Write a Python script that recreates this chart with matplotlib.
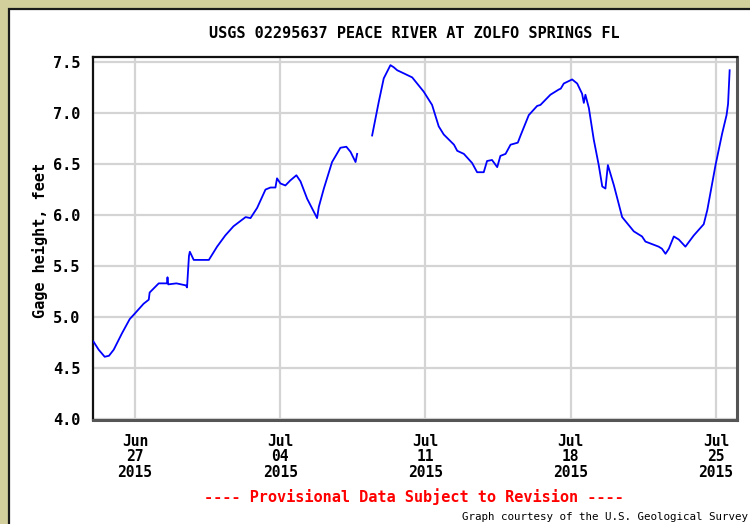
import matplotlib
matplotlib.use("Agg")
import matplotlib.pyplot as plt
import matplotlib.dates as mdates
import matplotlib.patches as mpatches
import numpy as np
import pandas as pd

# ---- data ----
times_seg1 = [
    "06-25 00:00", "06-25 06:00", "06-25 13:00", "06-25 18:00", "06-25 23:30",
    "06-26 09:00", "06-26 18:00", "06-27 00:30", "06-27 10:00", "06-27 16:00",
    "06-27 17:00", "06-28 03:30", "06-28 13:00", "06-28 13:40", "06-28 14:30",
    "06-29 00:00", "06-29 11:00", "06-29 12:15", "06-29 14:30", "06-29 15:30",
    "06-29 20:00", "06-30 13:30", "06-30 23:00", "07-01 08:30", "07-01 18:00",
    "07-02 08:00", "07-02 13:40", "07-02 21:20", "07-03 07:00", "07-03 12:45",
    "07-03 18:30", "07-03 20:20", "07-04 00:15", "07-04 06:00", "07-04 11:45",
    "07-04 18:45", "07-04 23:30", "07-05 07:10", "07-05 18:40", "07-05 20:40",
    "07-06 02:30", "07-06 12:00", "07-06 21:40", "07-07 04:30", "07-07 09:20",
    "07-07 15:10", "07-07 17:00",
]
gage_seg1 = [
    4.76, 4.68, 4.61, 4.62, 4.68,
    4.84, 4.98, 5.04, 5.13, 5.17,
    5.24, 5.33, 5.33, 5.39, 5.32,
    5.33, 5.31, 5.29, 5.60, 5.64,
    5.56, 5.56, 5.69, 5.80, 5.89,
    5.98, 5.97, 6.07, 6.25, 6.27,
    6.27, 6.36, 6.31, 6.29, 6.34,
    6.39, 6.33, 6.16, 5.97, 6.08,
    6.26, 6.52, 6.66, 6.67, 6.62,
    6.52, 6.60,
]
times_seg2 = [
    "07-08 10:20", "07-08 18:00", "07-08 23:45", "07-09 07:30", "07-09 11:15",
    "07-09 15:20", "07-09 22:50", "07-10 08:40", "07-10 22:00", "07-11 07:40",
    "07-11 15:20", "07-11 21:10", "07-12 09:00", "07-12 12:45", "07-12 20:25",
    "07-13 06:00", "07-13 11:45", "07-13 19:25", "07-13 23:15", "07-14 05:00",
    "07-14 11:00", "07-14 14:40", "07-14 20:40", "07-15 02:25", "07-15 10:50",
    "07-15 14:00", "07-15 23:30", "07-16 09:10", "07-16 13:00", "07-17 00:30",
    "07-17 10:00", "07-17 12:30", "07-17 16:00", "07-18 01:40", "07-18 07:30",
    "07-18 13:10", "07-18 15:10", "07-18 17:00", "07-18 21:00", "07-19 02:40",
    "07-19 08:25", "07-19 12:30", "07-19 16:10", "07-19 19:00", "07-20 02:00",
    "07-20 11:30", "07-21 01:00", "07-21 10:30", "07-21 14:25", "07-22 05:45",
    "07-22 09:30", "07-22 13:40", "07-22 17:30", "07-22 23:15", "07-23 05:00",
    "07-23 12:40", "07-23 22:20", "07-24 09:50", "07-24 14:00", "07-24 23:30",
    "07-25 07:10", "07-25 12:15", "07-25 14:00", "07-25 15:50",
]
gage_seg2 = [
    6.78, 7.11, 7.34, 7.47, 7.45,
    7.42, 7.39, 7.35, 7.21, 7.08,
    6.87, 6.79, 6.69, 6.63, 6.60,
    6.51, 6.42, 6.42, 6.53, 6.54,
    6.47, 6.58, 6.60, 6.69, 6.71,
    6.78, 6.98, 7.07, 7.08, 7.18,
    7.23, 7.24, 7.29, 7.33, 7.29,
    7.19, 7.10, 7.18, 7.05, 6.74,
    6.49, 6.28, 6.26, 6.49, 6.29,
    5.98, 5.84, 5.79, 5.74, 5.69,
    5.67, 5.62, 5.67, 5.79, 5.76,
    5.69, 5.80, 5.91, 6.05, 6.49,
    6.80, 6.98, 7.09, 7.42,
]
year = "2015"
y_ticks = [4.0, 4.5, 5.0, 5.5, 6.0, 6.5, 7.0, 7.5]
x_tick_dates = ["2015-06-27", "2015-07-04", "2015-07-11", "2015-07-18", "2015-07-25"]
title = "USGS 02295637 PEACE RIVER AT ZOLFO SPRINGS FL"
ylabel = "Gage height, feet"
provisional = "---- Provisional Data Subject to Revision ----"
credit = "Graph courtesy of the U.S. Geological Survey"

def to_dt(lst):
    return pd.to_datetime([f"{year}-{t}" for t in lst])

t1 = to_dt(times_seg1)
t2 = to_dt(times_seg2)

# ---- figure ----
W, H = 750, 524
fig = plt.figure(figsize=(W / 100, H / 100), dpi=100)
fig.patch.set_facecolor("#D3CF9D")

# white panel with dark border (extends past right/bottom edges)
panel = mpatches.Rectangle((8.5 / W, -0.05), 1.1, 1 - 8.5 / H + 0.05,
                           transform=fig.transFigure, facecolor="white",
                           edgecolor="#1a1a1a", linewidth=1.6, zorder=-5)
fig.patches.append(panel)

left, right, top, bottom = 93, 737, 57, 420
ax = fig.add_axes([left / W, 1 - bottom / H, (right - left) / W, (bottom - top) / H])
ax.set_zorder(5)
ax.set_facecolor("white")

mono = "DejaVu Sans Mono"
ax.plot(t1, gage_seg1, color="#0000FF", lw=1.3, zorder=3)
ax.plot(t2, gage_seg2, color="#0000FF", lw=1.3, zorder=3)

ax.set_ylim(3.99, 7.55)
ax.set_xlim(pd.Timestamp("2015-06-24 23:30"), pd.Timestamp("2015-07-26 00:20"))

ax.set_yticks(y_ticks)
ax.set_yticklabels([f"{v:.1f}" for v in y_ticks], fontfamily=mono,
                   fontweight="bold", fontsize=11)
xt = pd.to_datetime(x_tick_dates)
ax.set_xticks(xt)
ax.set_xticklabels([d.strftime("%b\n%d\n%Y") for d in xt], fontfamily=mono,
                   fontweight="bold", fontsize=10.5, linespacing=1.05)
ax.tick_params(axis="both", length=0)
ax.tick_params(axis="y", pad=9)
ax.tick_params(axis="x", pad=10)

ax.grid(True, color="#D4D4D4", lw=1.6, zorder=1)
ax.set_axisbelow(True)

for side in ["top", "left"]:
    ax.spines[side].set_color("#111111")
    ax.spines[side].set_linewidth(1.6)
for side in ["bottom", "right"]:
    ax.spines[side].set_color("#555555")
    ax.spines[side].set_linewidth(2.2)

fig.text(414 / W, 1 - 33 / H, title, ha="center", va="center",
         fontfamily=mono, fontweight="bold", fontsize=11)
fig.text(40 / W, 1 - 240 / H, ylabel, ha="center", va="center", rotation=90,
         fontfamily=mono, fontweight="bold", fontsize=11)
fig.text(414 / W, 1 - 497 / H, provisional, ha="center", va="center",
         fontfamily=mono, fontweight="bold", fontsize=11, color="#FF0000")
fig.text(605 / W, 1 - 517 / H, credit, ha="center", va="center",
         fontfamily=mono, fontsize=7.8, color="black")

fig.savefig("out.png", dpi=100, facecolor=fig.get_facecolor())
